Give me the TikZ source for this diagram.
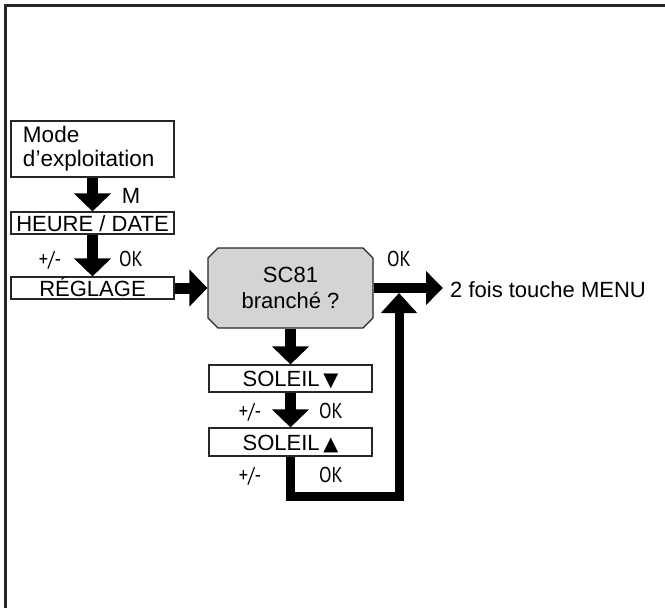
\documentclass[tikz,border=0pt]{standalone}
\usepackage{fontspec}
\setmainfont{Liberation Sans}
\newfontfamily\dinfont[FakeStretch=0.85]{PT Sans}
\newfontfamily\symfont{DejaVu Sans}
\usetikzlibrary{arrows.meta,shapes.misc}
\newcommand{\tridown}{{\symfont\fontsize{19.5}{20}\selectfont ▼}}
\newcommand{\triup}{{\symfont\fontsize{19.5}{20}\selectfont ▲}}
\begin{document}
\begin{tikzpicture}[x=1pt,y=-1pt,
  basebox/.style={draw=black!85, line width=1.2pt, fill=white, minimum width=163pt,
    inner sep=0pt, font=\fontsize{22}{24}\selectfont},
  box/.style={basebox, text height=16pt, text depth=0pt},
  flow/.style={line width=11pt, -{Triangle[width=36pt,length=18pt]}},
  back/.style={line width=9pt, line join=miter, -{Triangle[width=35pt,length=20pt]}},
  lbl/.style={inner sep=0pt, text height=15pt, text depth=0pt, font=\dinfont\fontsize{21.5}{25}\selectfont},
  mlbl/.style={inner sep=0pt, text height=16pt, text depth=0pt, font=\fontsize{22}{25}\selectfont},
]
\useasboundingbox (0,0) rectangle (665,608);
\fill[white] (0,0) rectangle (665,608);
% frame
\draw[line width=2.5pt, black!85] (5.5,608) -- (5.5,5.5) -- (665,5.5);

% boxes
\node[basebox, minimum height=56pt, align=left, text width=139pt,
  font=\fontsize{22.5}{24}\selectfont] (mode) at (92.5,149)
  {Mode\\d’exploitation};
\node[box, minimum height=22pt] (heure) at (92.5,223) {HEURE / DATE};
\node[box, minimum height=22pt] (reglage) at (92.5,288) {RÉGLAGE};
\node[chamfered rectangle, chamfered rectangle xsep=5pt, chamfered rectangle ysep=5pt,
  draw=black!85, fill=black!17, line width=1.2pt, minimum width=165pt, minimum height=80pt,
  inner sep=0pt, align=center, font=\fontsize{22}{26}\selectfont] (sc) at (290.5,288)
  {SC81\\branché ?};
\node[box, minimum height=27pt] (sdown) at (290.5,378.5) {SOLEIL\,\tridown};
\node[box, minimum height=28pt] (sup) at (290.5,442) {SOLEIL\,\triup};
\node[mlbl, anchor=west] (menu) at (450,289) {2 fois touche MENU};
\coordinate (tip) at (443,288);
\coordinate (fbtop) at (399,293);

% connectors
\draw[flow] (mode.south) -- (heure.north);
\draw[flow] (heure.south) -- (reglage.north);
\draw[flow] (reglage.east) -- (sc.west);
\draw[flow] (sc.south) -- (sdown.north);
\draw[flow] (sdown.south) -- (sup.north);
\draw[flow, line width=10pt, -{Triangle[width=33pt,length=17pt]}] (sc.east) -- (tip);
\draw[back] (sup.south) -- ++(0,40) -| (fbtop);

% labels
\node[mlbl] (m) at (131,195) {M};
\node[lbl] (pm1) at (50,259) {+/-};
\node[lbl] (ok1) at (131,259) {OK};
\node[lbl] (ok2) at (399,259) {OK};
\node[lbl] (pm2) at (250,411) {+/-};
\node[lbl] (ok3) at (331,411) {OK};
\node[lbl] (pm3) at (250,475) {+/-};
\node[lbl] (ok4) at (331,475) {OK};
\end{tikzpicture}
\end{document}
